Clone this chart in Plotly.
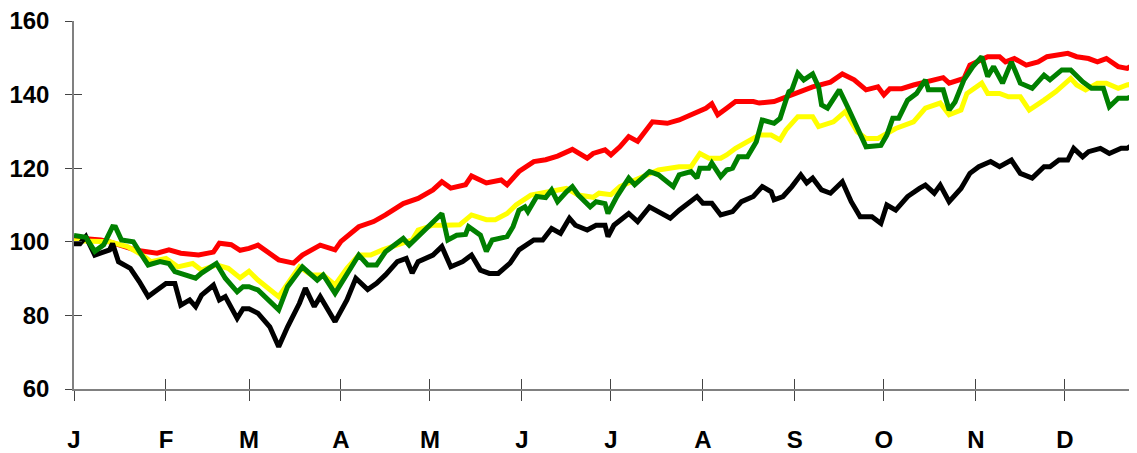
import pandas as pd
import plotly.graph_objects as go

YEAR_START = "2021-01-01"

month_starts = ["2021-01-01", "2021-02-01", "2021-03-01", "2021-04-01", "2021-05-01", "2021-06-01",
                "2021-07-01", "2021-08-01", "2021-09-01", "2021-10-01", "2021-11-01", "2021-12-01"]
month_labels = ["J", "F", "M", "A", "M", "J", "J", "A", "S", "O", "N", "D"]
y_ticks = [60, 80, 100, 120, 140, 160]

# day of year (0 = 1 Jan) and index value
red_days = [0, 4, 9, 12, 21, 28, 32, 36, 42, 47, 49, 53, 56, 59, 62, 69, 74, 77, 83, 88, 90, 96, 101, 105,
            111, 116, 121, 124, 127, 132, 134, 139, 144, 146, 150, 155, 159, 163, 168, 173, 175, 179, 181,
            184, 187, 190, 195, 200, 204, 209, 213, 215, 217, 220, 223, 229, 231, 236, 240, 244, 249, 255,
            259, 263, 267, 271, 273, 275, 279, 283, 287, 293, 295, 300, 302, 308, 312, 314, 317, 321, 325,
            328, 335, 338, 342, 345, 348, 352, 355, 358]
red_vals = [100.3, 100.8, 100.5, 100.0, 97.7, 96.9, 97.8, 96.9, 96.4, 97.2, 99.6, 99.2, 97.7, 98.2, 99.1,
            95.1, 94.2, 96.4, 99.1, 97.8, 100.1, 104.1, 105.5, 107.3, 110.4, 111.8, 114.1, 116.3, 114.6,
            115.5, 117.9, 116.0, 116.8, 115.5, 119.1, 121.8, 122.3, 123.3, 125.1, 122.7, 124.0, 125.0,
            123.6, 125.8, 128.6, 127.3, 132.6, 132.2, 133.1, 134.9, 136.3, 137.5, 134.5, 136.3, 138.1,
            138.1, 137.7, 138.1, 139.3, 140.3, 142.1, 143.4, 145.6, 144.0, 141.3, 142.1, 139.9, 141.6,
            141.6, 142.6, 143.4, 144.6, 143.1, 144.4, 148.0, 150.3, 150.3, 148.9, 149.8, 148.0, 148.9,
            150.3, 151.2, 150.3, 149.8, 148.9, 149.8, 147.6, 147.1, 148.5]

yellow_days = [0, 12, 18, 23, 26, 31, 35, 40, 43, 48, 52, 56, 59, 62, 69, 76, 80, 84, 88, 92, 96, 100, 104,
               110, 114, 116, 121, 125, 130, 134, 139, 142, 146, 149, 154, 160, 166, 170, 175, 177, 181,
               184, 191, 197, 204, 208, 211, 214, 218, 220, 223, 227, 231, 235, 238, 240, 242, 244, 249,
               251, 256, 260, 264, 267, 271, 274, 277, 283, 287, 292, 295, 299, 301, 306, 308, 312, 315,
               319, 322, 327, 331, 336, 338, 341, 345, 348, 352, 355, 358]
yellow_vals = [100.3, 100.0, 98.7, 96.4, 94.6, 95.5, 93.2, 94.1, 92.3, 93.7, 92.8, 90.2, 92.0, 89.6, 85.1,
               93.2, 91.0, 91.0, 88.3, 92.8, 96.4, 96.4, 97.8, 99.6, 100.5, 103.2, 104.5, 104.5, 104.6,
               107.3, 106.0, 106.0, 107.7, 110.0, 112.7, 113.6, 114.5, 112.7, 112.1, 113.2, 112.8, 115.0,
               117.3, 119.5, 120.4, 120.4, 124.0, 122.7, 122.7, 123.6, 125.4, 127.2, 129.0, 129.0, 127.7,
               130.4, 132.0, 134.0, 134.0, 131.3, 132.6, 135.4, 129.9, 128.1, 128.1, 129.4, 130.8, 132.6,
               136.3, 137.7, 134.5, 135.8, 140.3, 143.1, 140.3, 140.3, 139.4, 139.4, 135.8, 138.5, 140.8,
               144.4, 142.6, 141.3, 143.1, 143.1, 141.7, 142.6, 143.1]

black_days = [0, 2, 4, 7, 12, 13, 15, 19, 22, 25, 28, 31, 34, 36, 39, 41, 43, 47, 49, 51, 55, 57, 59, 62,
              66, 69, 72, 76, 78, 81, 83, 88, 92, 95, 99, 102, 105, 109, 112, 114, 116, 121, 124, 127, 131,
              134, 137, 140, 143, 147, 150, 155, 158, 161, 164, 167, 169, 173, 176, 179, 180, 182, 187,
              190, 194, 197, 201, 204, 210, 212, 215, 218, 222, 225, 229, 232, 235, 236, 239, 242, 245,
              247, 249, 252, 255, 259, 262, 265, 269, 272, 274, 277, 281, 285, 287, 290, 292, 295, 299,
              302, 305, 309, 312, 316, 319, 323, 327, 329, 332, 335, 337, 340, 342, 346, 349, 353, 355, 358]
black_vals = [99.5, 99.5, 101.4, 96.4, 97.8, 99.5, 94.6, 92.8, 89.2, 85.1, 86.9, 88.7, 88.7, 82.8, 84.2,
              82.4, 85.5, 88.2, 84.2, 85.1, 79.2, 81.8, 81.8, 80.6, 76.9, 71.5, 76.9, 83.3, 87.4, 82.4,
              85.1, 78.3, 84.2, 90.1, 87.0, 88.7, 91.0, 94.6, 95.5, 91.5, 94.6, 96.4, 98.7, 93.2, 94.6,
              96.4, 92.3, 91.4, 91.4, 94.2, 97.8, 100.5, 100.5, 103.6, 102.3, 106.4, 104.5, 103.2, 104.5,
              104.5, 101.4, 104.5, 107.7, 105.5, 109.5, 108.2, 106.4, 108.6, 112.3, 110.5, 110.5, 107.3,
              108.2, 110.9, 112.3, 115.0, 113.6, 111.4, 112.3, 115.0, 118.2, 116.0, 117.3, 114.1, 113.2,
              116.3, 110.9, 106.8, 106.8, 105.0, 110.0, 108.6, 112.3, 114.5, 115.4, 113.2, 115.4, 110.9,
              114.5, 118.6, 120.4, 121.8, 120.4, 122.2, 118.6, 117.3, 120.4, 120.4, 122.2, 122.2, 125.4,
              123.1, 124.5, 125.4, 124.0, 125.4, 125.4, 126.8]

green_days = [0, 4, 7, 10, 13, 14, 16, 20, 22, 25, 29, 32, 34, 37, 41, 43, 48, 51, 55, 57, 59, 62, 69, 72,
              77, 82, 84, 88, 92, 96, 99, 102, 105, 111, 113, 116, 120, 124, 126, 129, 132, 133, 137, 139,
              141, 146, 148, 150, 152, 153, 156, 159, 161, 163, 166, 168, 170, 174, 176, 179, 180, 183,
              187, 189, 194, 197, 202, 204, 208, 210, 211, 214, 215, 218, 220, 222, 224, 227, 230, 232,
              236, 238, 240, 241, 242, 244, 246, 249, 251, 252, 254, 258, 261, 264, 267, 272, 274, 276,
              278, 281, 284, 287, 288, 293, 295, 297, 300, 303, 306, 308, 310, 313, 316, 319, 323, 327,
              329, 333, 336, 340, 343, 347, 349, 352, 355, 358]
green_vals = [101.7, 101.2, 97.4, 99.2, 104.1, 104.0, 100.5, 100.0, 97.4, 93.7, 94.6, 94.1, 91.9, 91.0,
              90.1, 91.5, 94.1, 90.1, 86.4, 87.8, 87.8, 86.9, 81.5, 87.8, 93.2, 89.6, 91.0, 86.0, 91.0,
              96.4, 93.7, 93.7, 97.3, 100.9, 99.1, 101.4, 104.5, 107.7, 100.5, 101.8, 102.0, 104.1, 101.8,
              97.4, 100.5, 101.4, 104.1, 108.6, 109.5, 108.2, 112.3, 112.0, 114.1, 110.9, 113.6, 115.0,
              112.7, 109.5, 110.9, 110.4, 107.7, 112.3, 117.3, 115.5, 119.1, 118.2, 115.0, 118.2, 119.1,
              117.3, 120.0, 120.0, 121.4, 117.7, 119.5, 120.0, 123.1, 123.1, 127.2, 133.1, 132.2, 133.5,
              138.5, 140.8, 141.3, 145.8, 144.0, 145.6, 142.1, 137.2, 136.3, 141.3, 136.3, 131.3, 125.8,
              126.2, 129.0, 133.6, 133.6, 138.5, 140.3, 144.0, 141.3, 141.3, 135.8, 138.0, 144.0, 147.6,
              150.3, 144.9, 147.6, 143.1, 148.9, 143.1, 141.7, 145.3, 144.0, 146.7, 146.7, 143.5, 141.7,
              141.7, 136.7, 139.0, 139.0, 139.9]


def to_dates(days):
    return pd.Timestamp(YEAR_START) + pd.to_timedelta(days, unit="D")


series = [
    ("red", red_days, red_vals, "#ff0000"),
    ("yellow", yellow_days, yellow_vals, "#ffff00"),
    ("black", black_days, black_vals, "#000000"),
    ("green", green_days, green_vals, "#008000"),
]

fig = go.Figure()
for name, days, vals, color in series:
    fig.add_trace(go.Scatter(
        x=to_dates(days), y=vals, mode="lines", name=name,
        line=dict(color=color, width=5), showlegend=False,
    ))

# empty trace so the overlay axes (inner half of the crossing ticks) get drawn
fig.add_trace(go.Scatter(x=[], y=[], xaxis="x2", yaxis="y2", showlegend=False, hoverinfo="skip"))

x_range = ["2021-01-01", "2021-12-25 08:00"]
tick_font = dict(family="Liberation Sans, Arial", size=24, color="black", weight="bold")

# the page body adds an 8px margin, so the figure is sized to fill the rest of the window
fig.update_layout(
    width=1129, height=445,
    margin=dict(l=66, r=0, t=13, b=64),
    paper_bgcolor="white", plot_bgcolor="white",
    xaxis=dict(
        type="date", range=x_range, tickmode="array", tickvals=month_starts, ticktext=month_labels,
        ticks="outside", ticklen=10, tickwidth=1, tickcolor="#444", automargin=False,
        showline=True, linecolor="#808080", linewidth=1.5, showgrid=False, zeroline=False,
        tickfont=tick_font, ticklabelstandoff=18, ticklabeloverflow="allow",
    ),
    yaxis=dict(
        range=[60, 160], tickmode="array", tickvals=y_ticks, automargin=False,
        ticks="outside", ticklen=7, tickwidth=1, tickcolor="#444",
        showline=True, linecolor="#808080", linewidth=1.5, showgrid=False, zeroline=False,
        tickfont=tick_font, ticklabelstandoff=11, ticklabeloverflow="allow",
    ),
    xaxis2=dict(
        type="date", range=x_range, overlaying="x", anchor="y2", tickmode="array", tickvals=month_starts,
        ticks="inside", ticklen=10, tickwidth=1, tickcolor="#444", showticklabels=False, automargin=False,
        showline=False, showgrid=False, zeroline=False,
    ),
    yaxis2=dict(
        range=[60, 160], overlaying="y", anchor="x2", side="left", tickmode="array", tickvals=y_ticks,
        ticks="inside", ticklen=8, tickwidth=1, tickcolor="#444", showticklabels=False, automargin=False,
        showline=False, showgrid=False, zeroline=False,
    ),
)

fig.write_html("out.html")
